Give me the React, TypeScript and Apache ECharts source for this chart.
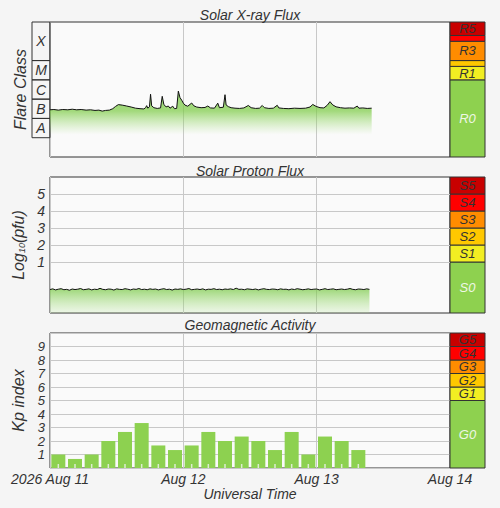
import { useEffect, useRef } from 'react';
import * as echarts from 'echarts';

// GOES X-ray flux (W/m2), hours since 2026 Aug 11 00:00 UT
const xrayHours = [
    0, 0.7, 1.5, 2.3, 3.2, 4, 4.8, 5.6, 6.5, 7.3, 8.1, 8.8, 9.4, 10, 10.7, 11.3, 11.8, 12.3, 13, 13.8,
    14.6, 15.4, 16.2, 16.9, 17.2, 17.4, 17.6, 17.9, 18.1, 18.3, 18.7, 19.3, 19.9, 20.2, 20.5, 20.9, 21.3, 21.6, 22.1, 22.4,
    22.8, 23.1, 23.4, 23.7, 24, 24.3, 24.8, 25.5, 25.9, 26.4, 27.2, 27.9, 28.4, 28.9, 29.6, 30.2, 30.5, 31.2, 31.5, 31.7,
    32.1, 32.6, 33.3, 34.1, 34.9, 35.7, 36.2, 37, 37.7, 38.2, 38.6, 39.4, 40.2, 40.9, 41.2, 42, 43, 44, 45, 46,
    46.8, 47.3, 47.9, 48.6, 49.3, 49.9, 50.4, 50.9, 51.5, 52.3, 53.1, 53.9, 54.7, 55.3, 55.6, 56.3, 57.1, 57.9,
];
const xrayFlux = [
    2.8e-7, 2.9e-7, 2.7e-7, 2.9e-7, 2.8e-7, 3.0e-7, 2.8e-7, 2.9e-7, 2.7e-7, 2.8e-7, 2.6e-7, 2.7e-7, 2.4e-7, 2.6e-7, 2.7e-7, 3.2e-7, 4.2e-7, 5.2e-7, 4.9e-7, 4.4e-7,
    3.9e-7, 3.4e-7, 3.2e-7, 3.1e-7, 3.6e-7, 4.6e-7, 3.4e-7, 4.0e-7, 1.8e-6, 4.5e-7, 3.6e-7, 3.3e-7, 3.5e-7, 1.4e-6, 5.2e-7, 4.0e-7, 4.4e-7, 3.4e-7, 4.3e-7, 3.2e-7,
    3.3e-7, 2.6e-6, 1.2e-6, 8.9e-7, 6.2e-7, 4.9e-7, 4.3e-7, 6.3e-7, 4.5e-7, 3.9e-7, 3.6e-7, 3.7e-7, 4.4e-7, 3.5e-7, 3.4e-7, 6.2e-7, 3.6e-7, 3.8e-7, 1.7e-6, 5.0e-7,
    4.1e-7, 3.6e-7, 3.4e-7, 3.3e-7, 3.5e-7, 4.7e-7, 3.6e-7, 3.3e-7, 3.4e-7, 4.7e-7, 3.6e-7, 3.3e-7, 3.4e-7, 4.8e-7, 3.5e-7, 3.3e-7, 3.2e-7, 3.4e-7, 3.3e-7, 3.4e-7,
    3.9e-7, 5.3e-7, 4.2e-7, 3.6e-7, 3.5e-7, 4.8e-7, 7.4e-7, 5.0e-7, 4.0e-7, 3.6e-7, 3.4e-7, 3.5e-7, 3.4e-7, 4.4e-7, 3.4e-7, 3.5e-7, 3.3e-7, 3.4e-7,
];

// proton flux >=10 MeV, log10(pfu), one value every half hour from 00:00
const protonStepHours = 0.5;
const protonLog = [
    -0.62, -0.58, -0.64, -0.6, -0.57, -0.63, -0.61, -0.66, -0.59, -0.62,
    -0.6, -0.56, -0.63, -0.61, -0.58, -0.64, -0.6, -0.62, -0.55, -0.61,
    -0.63, -0.59, -0.6, -0.65, -0.58, -0.61, -0.62, -0.57, -0.6, -0.64,
    -0.59, -0.61, -0.56, -0.62, -0.6, -0.63, -0.58, -0.61, -0.59, -0.64,
    -0.6, -0.57, -0.62, -0.6, -0.65, -0.59, -0.61, -0.58, -0.62, -0.6,
    -0.56, -0.63, -0.61, -0.59, -0.62, -0.58, -0.64, -0.6, -0.61, -0.57,
    -0.62, -0.6, -0.63, -0.59, -0.61, -0.58, -0.62, -0.54, -0.61, -0.6,
    -0.63, -0.58, -0.6, -0.62, -0.59, -0.64, -0.6, -0.57, -0.61, -0.62,
    -0.59, -0.6, -0.63, -0.58, -0.61, -0.6, -0.64, -0.59, -0.62, -0.57,
    -0.6, -0.63, -0.61, -0.58, -0.62, -0.6, -0.59, -0.64, -0.61, -0.57,
    -0.62, -0.6, -0.58, -0.63, -0.61, -0.59, -0.62, -0.6, -0.56, -0.61,
    -0.63, -0.59, -0.6, -0.62, -0.58, -0.61,
];

// planetary Kp, 3-hour intervals from 00:00
const kpStepHours = 3;
const kpValues = [1, 0.67, 1, 2, 2.67, 3.33, 1.67, 1.33, 1.67, 2.67, 2, 2.33, 2, 1.33, 2.67, 1, 2.33, 2, 1.33];

const dayLabels = ['2026 Aug 11', 'Aug 12', 'Aug 13', 'Aug 14'];

const flareClasses = ['A', 'B', 'C', 'M', 'X'];
const flareLo = [1e-8, 1e-7, 1e-6, 1e-5, 1e-4];
const flareHi = [1e-7, 1e-6, 1e-5, 1e-4, 1e-2];

const rLabels = ['R0', 'R1', '', 'R3', '', 'R5'];
const rLo = [1e-9, 1e-5, 5e-5, 1e-4, 1e-3, 2e-3];
const rHi = [1e-5, 5e-5, 1e-4, 1e-3, 2e-3, 1e-2];

const sLabels = ['S0', 'S1', 'S2', 'S3', 'S4', 'S5'];
const sLo = [-2, 1, 2, 3, 4, 5];
const sHi = [1, 2, 3, 4, 5, 6];

const gLabels = ['G0', 'G1', 'G2', 'G3', 'G4', 'G5'];
const gLo = [0, 5, 6, 7, 8, 9];
const gHi = [5, 6, 7, 8, 9, 10];

const scaleColors = ['#8ed14f', '#f2ee22', '#ffc800', '#ff8c00', '#ff0000', '#c80000'];
const FONT = '"Liberation Sans", Arial, sans-serif';
const GRID_LINE = '#c8c8c8';

// coloured level boxes (scale bars and flare class column)
const levelBoxes = (lo: number[], hi: number[], labels: string[], axis: number, fills: string[] | null) => ({
    type: 'custom',
    xAxisIndex: axis,
    yAxisIndex: axis,
    silent: true,
    clip: false,
    data: lo.map((v, i) => [0, v, hi[i]]),
    encode: { x: 0, y: [1, 2] },
    renderItem: (params: any, api: any) => {
        const i = params.dataIndex;
        const a = api.coord([0, api.value(1)]);
        const b = api.coord([1, api.value(2)]);
        return {
            type: 'group',
            children: [
                {
                    type: 'rect',
                    shape: { x: a[0], y: b[1], width: b[0] - a[0], height: a[1] - b[1] },
                    style: { fill: fills ? fills[i] : 'transparent', stroke: '#333', lineWidth: 1 },
                },
                {
                    type: 'text',
                    style: {
                        text: labels[i],
                        x: (a[0] + b[0]) / 2,
                        y: (a[1] + b[1]) / 2,
                        align: 'center',
                        verticalAlign: 'middle',
                        fill: fills && i === 0 ? '#eef7e6' : '#333',
                        font: `italic ${fills ? 13 : 14}px ${FONT}`,
                    },
                },
            ],
        };
    },
});

const hLines = (values: number[]) => ({
    silent: true,
    symbol: 'none',
    label: { show: false },
    lineStyle: { color: GRID_LINE, type: 'solid', width: 1 },
    data: values.map((v) => ({ yAxis: v })),
});

const App = () => {
    const chartRef = useRef<HTMLDivElement | null>(null);

    useEffect(() => {
        const chart = echarts.init(chartRef.current!, null, { renderer: 'svg' });

        const timeAxis = (grid: number, labels: boolean) => ({
            type: 'value',
            gridIndex: grid,
            min: 0,
            max: 72,
            interval: 24,
            axisLine: { show: false },
            axisTick: { show: false },
            splitLine: { show: true, lineStyle: { color: GRID_LINE } },
            axisLabel: {
                show: labels,
                margin: 4,
                color: '#333',
                fontSize: 14,
                fontStyle: 'italic',
                hideOverlap: false,
                formatter: (v: number) => dayLabels[Math.round(v / 24)],
            },
            ...(labels
                ? {
                      name: 'Universal Time',
                      nameLocation: 'middle',
                      nameGap: 18,
                      nameTextStyle: { color: '#333', fontSize: 14, fontStyle: 'italic' },
                  }
                : {}),
        });
        const unitAxis = (grid: number) => ({ type: 'value', gridIndex: grid, min: 0, max: 1, show: false });
        const yName = (name: string, rich = false) => ({
            name,
            nameLocation: 'middle',
            nameGap: 22,
            nameTextStyle: {
                color: '#333',
                fontSize: 16,
                fontStyle: 'italic',
                ...(rich
                    ? {
                          rich: {
                              a: { fontSize: 16, fontStyle: 'italic', color: '#333' },
                              s: { fontSize: 9, fontStyle: 'italic', color: '#333', verticalAlign: 'bottom', lineHeight: 12 },
                          },
                      }
                    : {}),
            },
        });
        const numLabels = {
            color: '#333',
            fontSize: 14,
            lineHeight: 13,
            fontStyle: 'italic',
            margin: 5,
        };

        const gridBox = { show: true, borderColor: '#333', borderWidth: 1, backgroundColor: '#fafafa' };

        const option: any = {
            animation: false,
            backgroundColor: '#f5f5f5',
            textStyle: { fontFamily: FONT },
            title: [
                { text: 'Solar X-ray Flux', top: 3 },
                { text: 'Solar Proton Flux', top: 159 },
                { text: 'Geomagnetic Activity', top: 313 },
            ].map((t) => ({
                ...t,
                left: 'center',
                textStyle: { color: '#333', fontSize: 14, fontWeight: 'normal', fontStyle: 'italic', fontFamily: FONT },
            })),
            grid: [
                { left: 50, top: 22, width: 400, height: 135, ...gridBox },
                { left: 450, top: 22, width: 35, height: 135 },
                { left: 32, top: 22, width: 18, height: 135 },
                { left: 50, top: 177, width: 400, height: 136, ...gridBox },
                { left: 450, top: 177, width: 35, height: 136 },
                { left: 50, top: 333, width: 400, height: 135, ...gridBox },
                { left: 450, top: 333, width: 35, height: 135 },
            ],
            xAxis: [
                timeAxis(0, false),
                unitAxis(1),
                unitAxis(2),
                timeAxis(3, false),
                unitAxis(4),
                timeAxis(5, true),
                unitAxis(6),
            ],
            yAxis: [
                {
                    type: 'log',
                    logBase: 10,
                    gridIndex: 0,
                    min: 1e-9,
                    max: 1e-2,
                    axisLine: { show: false },
                    axisTick: { show: false },
                    axisLabel: { show: false },
                    splitLine: { show: false },
                    ...yName('Flare Class'),
                },
                { type: 'log', logBase: 10, gridIndex: 1, min: 1e-9, max: 1e-2, show: false },
                { type: 'log', logBase: 10, gridIndex: 2, min: 1e-9, max: 1e-2, show: false },
                {
                    type: 'value',
                    gridIndex: 3,
                    min: -2,
                    max: 6,
                    interval: 1,
                    axisLine: { show: false },
                    axisTick: { show: false },
                    splitLine: { show: false },
                    axisLabel: { ...numLabels, formatter: (v: number) => (v >= 1 && v <= 5 ? String(v) : '') },
                    ...yName('{a|Log}{s|10}{a|(pfu)}', true),
                },
                { type: 'value', gridIndex: 4, min: -2, max: 6, show: false },
                {
                    type: 'value',
                    gridIndex: 5,
                    min: 0,
                    max: 10,
                    interval: 1,
                    axisLine: { show: false },
                    axisTick: { show: false },
                    splitLine: { show: true, lineStyle: { color: GRID_LINE } },
                    axisLabel: {
                        ...numLabels,
                        fontSize: 13,
                        lineHeight: 12,
                        formatter: (v: number) => (v >= 1 && v <= 9 ? String(v) : ''),
                    },
                    ...yName('Kp index'),
                },
                { type: 'value', gridIndex: 6, min: 0, max: 10, show: false },
            ],
            series: [
                {
                    type: 'line',
                    xAxisIndex: 0,
                    yAxisIndex: 0,
                    data: xrayHours.map((h, i) => [h, xrayFlux[i]]),
                    showSymbol: false,
                    lineStyle: { color: '#111', width: 1 },
                    areaStyle: {
                        origin: 'start',
                        color: new echarts.graphic.LinearGradient(0, 0, 0, 1, [
                            { offset: 0, color: '#6fc43a' },
                            { offset: 0.3, color: '#7ccb45' },
                            { offset: 0.66, color: 'rgba(160,220,120,0)' },
                        ]),
                    },
                    markLine: hLines(rLo.slice(1)),
                },
                levelBoxes(rLo, rHi, rLabels, 1, scaleColors),
                levelBoxes(flareLo, flareHi, flareClasses, 2, null),
                {
                    type: 'line',
                    xAxisIndex: 3,
                    yAxisIndex: 3,
                    data: protonLog.map((v, i) => [i * protonStepHours, v]),
                    showSymbol: false,
                    lineStyle: { color: '#111', width: 1 },
                    areaStyle: {
                        origin: 'start',
                        color: new echarts.graphic.LinearGradient(0, 0, 0, 1, [
                            { offset: 0, color: '#72c63c' },
                            { offset: 1, color: 'rgba(170,225,135,0.25)' },
                        ]),
                    },
                    markLine: hLines(sLo.slice(1)),
                },
                levelBoxes(sLo, sHi, sLabels, 4, scaleColors),
                {
                    type: 'bar',
                    xAxisIndex: 5,
                    yAxisIndex: 5,
                    data: kpValues.map((v, i) => [i * kpStepHours + kpStepHours / 2, v]),
                    barWidth: 14,
                    itemStyle: { color: '#8dd150' },
                },
                {
                    type: 'scatter',
                    xAxisIndex: 5,
                    yAxisIndex: 5,
                    silent: true,
                    data: kpValues.map((_, i) => [i * kpStepHours + kpStepHours / 2, 0]),
                    symbol: 'rect',
                    symbolSize: [1.5, 4],
                    symbolOffset: [0, -2],
                    itemStyle: { color: '#f2f2f2' },
                    z: 5,
                },
                levelBoxes(gLo, gHi, gLabels, 6, scaleColors),
            ],
        };

        chart.setOption(option);

        return () => {
            chart.dispose();
        };
    }, []);

    return <div ref={chartRef} style={{ position: 'absolute', left: 0, top: 0, width: 500, height: 508 }} />;
};

export default App;
